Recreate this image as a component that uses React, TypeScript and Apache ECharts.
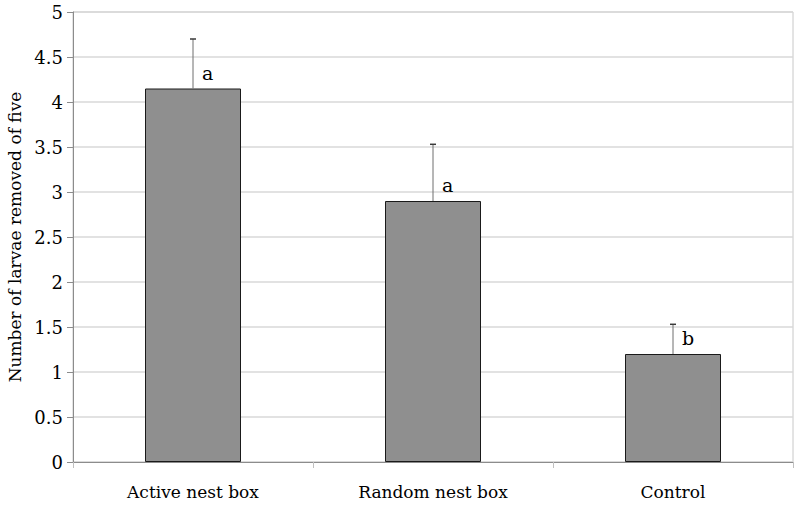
import React, { useEffect, useRef } from "react";
import * as echarts from "echarts";

const categories = ["Active nest box", "Random nest box", "Control"];
const means = [4.15, 2.9, 1.2];
const upperErrors = [0.55, 0.63, 0.33];
const letters = ["a", "a", "b"];
const yTicks = { min: 0, max: 5, interval: 0.5 };

const FONT = "DejaVu Serif";

export default function App() {
  const ref = useRef<HTMLDivElement>(null);
  useEffect(() => {
    if (!ref.current) return;
    const chart = echarts.init(ref.current, null, { renderer: "svg" });
    const errData = categories.map((_, i) => [i, means[i], means[i] + upperErrors[i]]);
    chart.setOption({
      animation: false,
      backgroundColor: "#ffffff",
      textStyle: { fontFamily: FONT },
      grid: {
        left: 73,
        right: 7,
        top: 12,
        bottom: 43,
        outerBoundsMode: "none",
        containLabel: false,
        show: true,
        borderColor: "#c8c8c8",
        borderWidth: 1,
        backgroundColor: "transparent",
      },
      xAxis: {
        type: "category",
        data: categories,
        boundaryGap: true,
        axisLine: { show: true, lineStyle: { color: "#8c8c8c", width: 1 } },
        axisTick: { show: true, length: 6, alignWithLabel: false, lineStyle: { color: "#c0c0c0" } },
        axisLabel: {
          color: "#000",
          fontFamily: FONT,
          fontSize: 17,
          margin: 21,
        },
      },
      yAxis: {
        type: "value",
        min: yTicks.min,
        max: yTicks.max,
        interval: yTicks.interval,
        name: "Number of larvae removed of five",
        nameLocation: "middle",
        nameGap: 49,
        nameRotate: 90,
        nameTextStyle: { color: "#000", fontFamily: FONT, fontSize: 17 },
        axisLine: { show: true, lineStyle: { color: "#8c8c8c", width: 1 } },
        axisTick: { show: true, length: 6, lineStyle: { color: "#8c8c8c" } },
        axisLabel: {
          color: "#000",
          fontFamily: FONT,
          fontSize: 18,
          margin: 10,
        },
        splitLine: { show: true, lineStyle: { color: "#d9d9d9", width: 1.5 } },
      },
      series: [
        {
          type: "bar",
          data: means,
          barWidth: "40%",
          itemStyle: { color: "#8f8f8f", borderColor: "#1a1a1a", borderWidth: 1 },
          z: 2,
        },
        {
          type: "custom",
          data: errData,
          z: 3,
          renderItem: (params: any, api: any) => {
            const i = api.value(0);
            const lo = api.coord([i, api.value(1)]);
            const hi = api.coord([i, api.value(2)]);
            const letter = letters[params.dataIndex];
            return {
              type: "group",
              children: [
                {
                  type: "line",
                  shape: { x1: lo[0], y1: lo[1], x2: hi[0], y2: hi[1] },
                  style: { stroke: "#6e6e6e", lineWidth: 1 },
                },
                {
                  type: "line",
                  shape: { x1: hi[0] - 3, y1: hi[1], x2: hi[0] + 3, y2: hi[1] },
                  style: { stroke: "#3a3a3a", lineWidth: 1.5 },
                },
                {
                  type: "text",
                  x: lo[0] + 9,
                  y: lo[1] - 16,
                  style: {
                    text: letter,
                    fill: "#000",
                    fontFamily: FONT,
                    fontSize: 19,
                    align: "left",
                    verticalAlign: "middle",
                  },
                },
              ],
            };
          },
        },
      ],
    });
    return () => chart.dispose();
  }, []);
  return <div ref={ref} style={{ width: 800, height: 505, position: "absolute", left: 0, top: 0 }} />;
}
